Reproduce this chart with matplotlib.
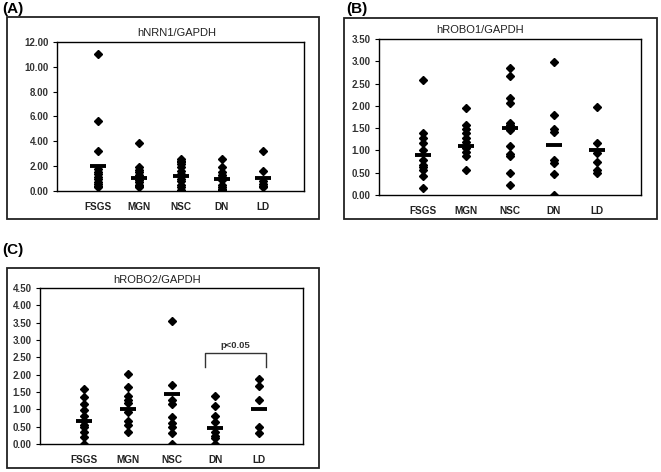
import matplotlib
matplotlib.use("Agg")
import matplotlib.pyplot as plt
from matplotlib.patches import Rectangle

plt.rcParams['font.family'] = ['Liberation Sans', 'DejaVu Sans']

groups = ['FSGS', 'MGN', 'NSC', 'DN', 'LD']

# hNRN1/GAPDH
nrn1 = [
    [11.0, 5.6, 3.25, 1.75, 1.55, 1.35, 1.15, 0.95, 0.75, 0.55, 0.4, 0.3],
    [3.87, 1.9, 1.7, 1.5, 1.3, 1.1, 0.9, 0.7, 0.5, 0.4, 0.3],
    [2.6, 2.45, 2.3, 2.15, 1.9, 1.6, 1.4, 1.2, 1.0, 0.8, 0.5, 0.3, 0.1],
    [2.6, 1.95, 1.5, 1.3, 1.1, 0.9, 0.5, 0.35, 0.2, 0.1, 0.05],
    [3.2, 1.65, 0.8, 0.6, 0.4, 0.3],
]
nrn1_mean = [2.04, 1.07, 1.23, 0.96, 1.07]

# hROBO1/GAPDH
robo1 = [
    [2.58, 1.38, 1.27, 1.16, 1.02, 0.79, 0.67, 0.62, 0.56, 0.43, 0.15],
    [1.96, 1.57, 1.47, 1.38, 1.29, 1.20, 1.05, 0.97, 0.88, 0.56],
    [2.84, 2.66, 2.17, 2.06, 1.62, 1.57, 1.46, 1.11, 0.93, 0.88, 0.50, 0.22],
    [2.99, 1.80, 1.48, 1.42, 0.79, 0.71, 0.46, 0.0],
    [1.97, 1.17, 0.95, 0.75, 0.56, 0.49],
]
robo1_mean = [0.89, 1.11, 1.50, 1.12, 1.00]

# hROBO2/GAPDH
robo2 = [
    [1.58, 1.35, 1.16, 0.98, 0.81, 0.65, 0.55, 0.48, 0.36, 0.21, 0.0],
    [2.01, 1.63, 1.39, 1.27, 1.18, 0.93, 0.66, 0.55, 0.36],
    [3.55, 1.71, 1.27, 1.15, 0.79, 0.62, 0.50, 0.31, 0.0],
    [1.39, 1.11, 0.82, 0.63, 0.36, 0.23, 0.16, 0.0],
    [1.87, 1.66, 1.27, 0.50, 0.33],
]
robo2_mean = [0.65, 1.01, 1.43, 0.46, 1.01]

W, H = 661, 472
fig = plt.figure(figsize=(W / 100, H / 100), dpi=100)


def px_box(x0, y0, x1, y1):
    return [x0 / W, 1 - y1 / H, (x1 - x0) / W, (y1 - y0) / H]


def frame(x0, y0, x1, y1):
    l, b, w, h = px_box(x0, y0, x1, y1)
    fig.patches.append(Rectangle((l, b), w, h, transform=fig.transFigure,
                                 fill=False, edgecolor='#222222', linewidth=1.3))


def panel(box, values, means, ymax, step, title, title_xy, label, label_xy):
    ax = fig.add_axes(px_box(*box))
    for i, vals in enumerate(values):
        ax.plot([i + 1] * len(vals), vals, linestyle='none', marker='D',
                markersize=4.4, color='black')
    ax.plot(range(1, 6), means, linestyle='none', marker='_',
            markersize=12, markeredgewidth=2.8, color='black')
    ax.set_xlim(0, 6)
    ax.set_ylim(0, ymax)
    ticks = [k * step for k in range(int(round(ymax / step)) + 1)]
    ax.set_yticks(ticks)
    ax.set_yticklabels([f'{t:.2f}' for t in ticks], fontsize=7,
                       fontweight='bold', color='#333333')
    ax.set_xticks(range(1, 6))
    ax.set_xticklabels(groups, fontsize=7.2, fontweight='bold', color='#222222')
    ax.tick_params(axis='x', length=0, pad=8)
    ax.tick_params(axis='y', length=3, width=0.8, pad=3)
    for s in ax.spines.values():
        s.set_linewidth(1.0)
    fig.text(title_xy[0] / W, 1 - title_xy[1] / H, title, fontsize=8,
             ha='center', va='center', color='#222222')
    fig.text(label_xy[0] / W, 1 - label_xy[1] / H, label, fontsize=11,
             fontweight='bold', ha='left', va='center')
    return ax


frame(7, 17, 319, 219)
frame(344, 18, 657, 219)
frame(7, 268, 319, 468)

panel((57, 42, 304, 191), nrn1, nrn1_mean, 12.0, 2.0,
      'hNRN1/GAPDH', (177, 33), '(A)', (2, 9))
panel((379, 39, 641, 195), robo1, robo1_mean, 3.5, 0.5,
      'hROBO1/GAPDH', (480, 30), '(B)', (346, 9))
axc = panel((40, 288, 303, 444), robo2, robo2_mean, 4.5, 0.5,
            'hROBO2/GAPDH', (157, 280), '(C)', (2, 250))

# significance bracket between DN and LD
axc.plot([3.77, 3.77, 5.15, 5.15], [2.23, 2.62, 2.62, 2.23],
         color='#333333', linewidth=1.0)
axc.text(4.46, 2.72, 'p<0.05', fontsize=6.8, fontweight='bold',
         ha='center', va='bottom', color='#333333')

fig.savefig('out.png', dpi=100)
